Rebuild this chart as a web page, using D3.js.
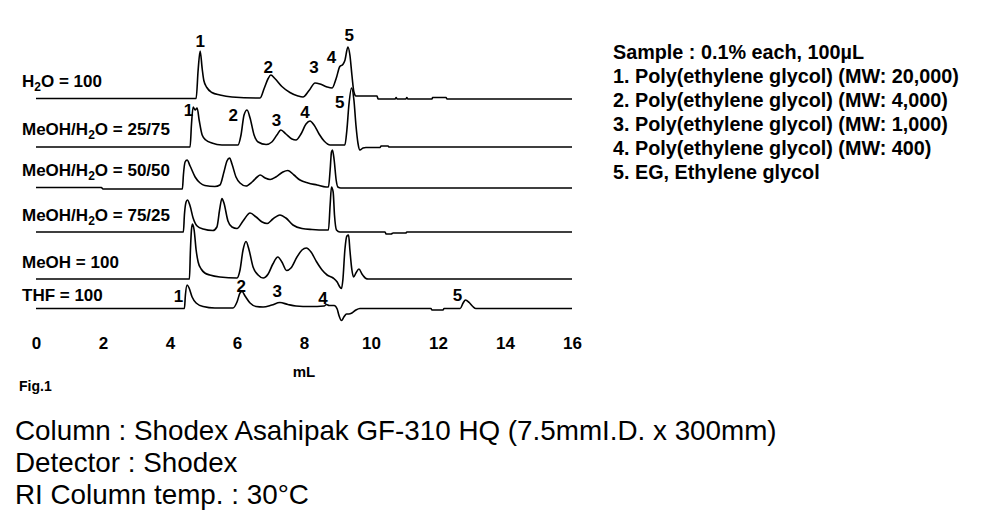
<!DOCTYPE html>
<html>
<head>
<meta charset="utf-8">
<script src="https://cdn.jsdelivr.net/npm/d3@7"></script>
<style>
  html, body { margin: 0; padding: 0; background: #fff; }
  svg { display: block; }
  .lbl { font-family: "Liberation Sans", Arial, sans-serif; font-weight: bold; fill: #000; }
  .legend { font-family: "Liberation Sans", Arial, sans-serif; font-weight: bold; font-size: 19.8px; fill: #000; }
  .cond { font-family: "Liberation Sans", Arial, sans-serif; font-size: 27.8px; fill: #000; }
</style>
</head>
<body>
<svg id="chart" width="1002" height="522"></svg>
<script>
// ---------- data (elution volume in mL, detector signal in arbitrary units above each baseline) ----------
const traceNames = ["H2O = 100", "MeOH/H2O = 25/75", "MeOH/H2O = 50/50", "MeOH/H2O = 75/25", "MeOH = 100", "THF = 100"];
const traceOffsets = [231.5, 183, 142, 98, 51, 21.5];

const h2o = [[0,0],[4.78,0],[4.84,28.5],[4.90,47.5],[4.96,30],[5.01,18],[5.10,11],[5.25,6],[5.49,3.5],[5.85,1.5],[6.69,0.5],[6.81,10],[6.93,20],[7.01,23.5],[7.13,20],[7.34,12],[7.58,6],[7.82,2.5],[7.97,1.5],[8.15,8],[8.33,15.5],[8.48,14.5],[8.69,11.5],[8.84,10.5],[8.96,20],[9.07,32],[9.16,34],[9.22,38],[9.31,51.5],[9.37,43.5],[9.43,23.5],[9.49,6.5],[9.55,2.5],[10.18,2.5],[10.21,-0.5],[10.72,-0.5],[10.75,1],[10.78,-0.5],[11.04,-0.5],[11.07,1],[11.10,-0.5],[11.82,-0.5],[11.84,1],[12.24,1],[12.27,-0.5],[16.0,-0.5]];
const meoh25 = [[0,0],[4.60,0],[4.64,22],[4.69,40],[4.75,37],[4.81,39],[4.87,27],[4.96,12],[5.07,7],[5.25,4],[5.55,2],[6.03,2],[6.12,12],[6.21,32],[6.30,37],[6.39,29],[6.51,12],[6.63,5],[6.87,2.5],[7.04,5],[7.19,12],[7.31,17],[7.46,13],[7.64,8],[7.76,7],[7.91,13],[8.06,23],[8.18,26],[8.30,22],[8.45,13],[8.60,6],[8.78,2],[9.22,2],[9.28,17],[9.34,42],[9.42,59],[9.49,47],[9.55,22],[9.61,4],[9.67,-3],[9.76,-1],[9.85,-0.5],[10.27,-0.5],[10.30,1],[10.51,1],[10.54,0],[16.0,0]];
const meoh50 = [[0,0.5],[1.95,0.5],[2.0,-1],[4.37,-1],[4.40,13],[4.45,26],[4.51,28],[4.60,22],[4.75,11],[4.90,5],[5.04,2.5],[5.34,1.5],[5.49,3],[5.61,16],[5.70,27],[5.78,30],[5.85,24],[5.97,11],[6.09,5],[6.27,2],[6.45,6],[6.60,11],[6.69,13],[6.84,10],[6.99,8.5],[7.16,11],[7.37,16],[7.52,17.5],[7.70,13],[7.88,8],[8.12,5],[8.39,3],[8.66,1],[8.73,1],[8.78,18],[8.82,36],[8.85,38],[8.90,28],[8.96,8],[9.01,1],[9.10,0],[16.0,0]];
const meoh75 = [[0,0],[4.40,0],[4.43,17],[4.48,30],[4.52,32],[4.60,26],[4.69,14],[4.81,6],[4.99,3],[5.28,1.5],[5.40,5],[5.48,22],[5.55,33.5],[5.61,29],[5.73,11],[5.85,5],[6.00,3.5],[6.18,11],[6.39,19],[6.57,15],[6.75,10],[6.90,8.5],[7.07,13],[7.28,17],[7.46,14],[7.67,7],[7.94,3.5],[8.24,2.5],[8.66,2],[8.73,2],[8.78,27],[8.82,45],[8.87,40],[8.91,17],[8.97,2],[9.07,0],[10.42,0],[10.45,-2],[10.60,-2],[10.66,-1],[11.04,-1],[11.07,0],[16.0,0]];
const meoh100 = [[0,0],[4.58,0],[4.61,29],[4.64,49],[4.67,55],[4.72,49],[4.78,29],[4.84,17],[4.93,10],[5.04,6],[5.19,4],[5.49,2],[6.00,1],[6.09,9],[6.18,29],[6.27,37.5],[6.36,29],[6.48,12],[6.63,4],[6.78,1],[6.93,5],[7.07,15],[7.22,22],[7.34,17],[7.48,8.5],[7.61,11],[7.79,22],[7.94,29],[8.07,31],[8.21,27],[8.37,17.5],[8.54,9],[8.69,4],[8.87,1],[8.99,-3],[9.07,-8],[9.12,-9.5],[9.16,-1],[9.22,29],[9.28,43],[9.33,44],[9.37,29],[9.43,9],[9.48,2],[9.55,6],[9.64,10],[9.73,5],[9.85,0.5],[9.91,0],[16.0,0]];
const thf = [[0,0],[4.43,0],[4.46,13.5],[4.51,23.5],[4.57,20.5],[4.66,11.5],[4.78,5.5],[4.99,2],[5.34,0.5],[5.88,0.5],[6.00,6.5],[6.09,15.5],[6.15,17],[6.24,12.5],[6.39,5.5],[6.57,2],[6.78,1.5],[7.04,3.5],[7.28,6],[7.52,4],[7.76,2.5],[8.18,2],[8.60,2.5],[8.67,4],[8.75,3],[8.90,3],[8.99,-0.5],[9.04,-6.5],[9.12,-12],[9.19,-8.5],[9.27,-5.5],[9.34,-5.5],[9.43,-4.5],[9.55,-1.5],[9.67,0],[11.79,0],[11.82,-1.5],[12.15,-1.5],[12.18,0],[12.66,0],[12.75,5.5],[12.82,8.5],[12.93,6],[13.04,2],[13.13,0],[16.0,0]];
const traces = [h2o, meoh25, meoh50, meoh75, meoh100, thf];

// peak number annotations: [trace index, peak label, mL, signal]
const peakLabels = [
  [0,"1",4.90,58],[0,"2",6.93,32],[0,"3",8.30,32],[0,"4",8.82,42],[0,"5",9.35,64],
  [1,"1",4.55,37],[1,"2",5.89,32],[1,"3",7.18,27],[1,"4",8.03,35],[1,"5",9.07,45],
  [5,"1",4.25,13],[5,"2",6.13,22.5],[5,"3",7.20,18],[5,"4",8.57,11],[5,"5",12.58,13.5]
];

const xTicks = [0, 2, 4, 6, 8, 10, 12, 14, 16];
const xTitle = "mL";
const figLabel = "Fig.1";
const legendLines = ["Sample : 0.1% each, 100\u00b5L", "1. Poly(ethylene glycol) (MW: 20,000)", "2. Poly(ethylene glycol) (MW: 4,000)", "3. Poly(ethylene glycol) (MW: 1,000)", "4. Poly(ethylene glycol) (MW: 400)", "5. EG, Ethylene glycol"];
const conditionLines = ["Column : Shodex Asahipak GF-310 HQ (7.5mmI.D. x 300mm)", "Detector : Shodex", "RI Column temp. : 30\u00b0C"];

// ---------- drawing ----------
const svg = d3.select("#chart");
const x = d3.scaleLinear().domain([0, 16]).range([36, 572]);
const y = d3.scaleLinear().domain([0, 300]).range([330, 30]);

const line = d3.line()
  .x(d => x(d[0]))
  .y(d => y(d[1]))
  .curve(d3.curveMonotoneX);

traces.forEach((tr, i) => {
  svg.append("path")
    .datum(tr.map(p => [p[0], p[1] + traceOffsets[i]]))
    .attr("d", line)
    .attr("fill", "none")
    .attr("stroke", "#000")
    .attr("stroke-width", 1.6)
    .attr("stroke-linejoin", "round");
});

// trace names (with subscript 2 in H2O)
const nameCenters = [82, 130, 171, 216, 263, 296];
traceNames.forEach((name, i) => {
  const t = svg.append("text").attr("class", "lbl")
    .attr("x", 22)
    .attr("y", y(traceOffsets[i]) - 10 + (nameCenters[i] - (y(traceOffsets[i]) - 15)))
    .attr("font-size", 17)
    .attr("textLength", null);
  const parts = name.split("H2O");
  parts.forEach((p, k) => {
    if (k > 0) {
      t.append("tspan").text("H");
      t.append("tspan").text("2").attr("font-size", 12).attr("dy", 4);
      t.append("tspan").text("O").attr("dy", -4);
    }
    if (p) t.append("tspan").text(p);
  });
});

// peak labels
svg.selectAll("text.peak").data(peakLabels).join("text")
  .attr("class", "lbl peak")
  .attr("font-size", 17)
  .attr("text-anchor", "middle")
  .attr("x", d => x(d[2]))
  .attr("y", d => y(d[3] + traceOffsets[d[0]]) + 6)
  .text(d => d[1]);

// x axis (labels only)
const axis = d3.axisBottom(x).tickValues(xTicks).tickSize(0).tickPadding(0).tickFormat(d3.format("d"));
const gAxis = svg.append("g").attr("transform", "translate(0,337)").call(axis);
gAxis.select(".domain").remove();
gAxis.selectAll("text").attr("class", "lbl").attr("font-size", 17).attr("fill", "#000")
  .attr("font-family", null);

svg.append("text").attr("class", "lbl").attr("font-size", 15)
  .attr("x", x(8)).attr("y", 377).attr("text-anchor", "middle").text(xTitle);
svg.append("text").attr("class", "lbl").attr("font-size", 14)
  .attr("x", 19).attr("y", 391).text(figLabel);

// legend block
svg.append("g").selectAll("text").data(legendLines).join("text")
  .attr("class", "legend")
  .attr("x", 613)
  .attr("y", (d, i) => 59 + i * 24)
  .text(d => d);

// conditions
svg.append("g").selectAll("text").data(conditionLines).join("text")
  .attr("class", "cond")
  .attr("x", 15)
  .attr("y", (d, i) => 440 + i * 32)
  .text(d => d);
</script>
</body>
</html>
